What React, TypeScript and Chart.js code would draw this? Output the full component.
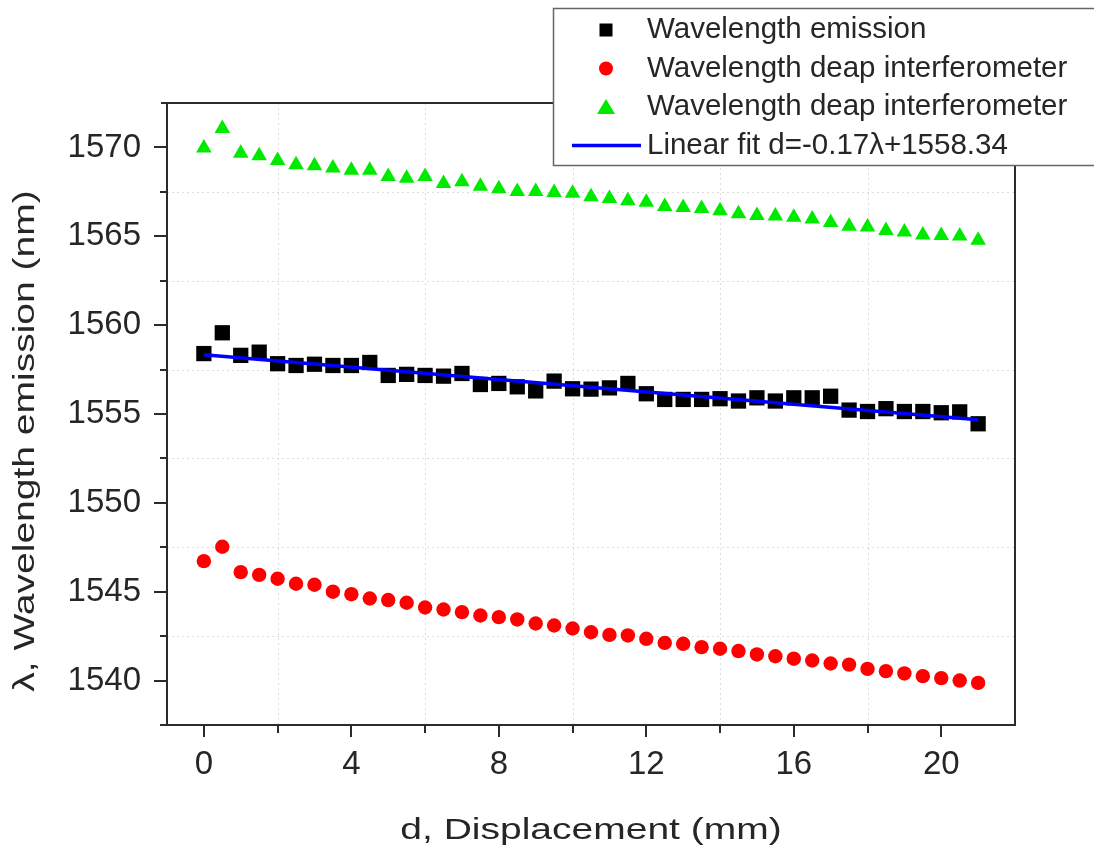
import React, { useEffect, useRef } from "react";
import { Chart, registerables } from "chart.js";

Chart.register(...registerables);

// ---------- data ----------
const displacementMm = [
  0, 0.5, 1, 1.5, 2, 2.5, 3, 3.5, 4, 4.5, 5, 5.5, 6, 6.5, 7, 7.5, 8, 8.5, 9, 9.5, 10,
  10.5, 11, 11.5, 12, 12.5, 13, 13.5, 14, 14.5, 15, 15.5, 16, 16.5, 17, 17.5, 18, 18.5,
  19, 19.5, 20, 20.5, 21,
];

const emissionNm = [
  1558.4, 1559.57, 1558.3, 1558.48, 1557.83, 1557.73, 1557.8, 1557.73, 1557.73, 1557.9,
  1557.17, 1557.23, 1557.17, 1557.13, 1557.28, 1556.66, 1556.72, 1556.53, 1556.3, 1556.85,
  1556.42, 1556.4, 1556.47, 1556.72, 1556.14, 1555.82, 1555.82, 1555.82, 1555.86, 1555.73,
  1555.91, 1555.73, 1555.91, 1555.91, 1556.0, 1555.22, 1555.14, 1555.3, 1555.14, 1555.14,
  1555.07, 1555.12, 1554.45,
];

const interferometerRedNm = [
  1546.72, 1547.53, 1546.1, 1545.95, 1545.73, 1545.45, 1545.39, 1545.0, 1544.86, 1544.62,
  1544.53, 1544.38, 1544.11, 1544.0, 1543.85, 1543.66, 1543.57, 1543.44, 1543.21, 1543.1,
  1542.93, 1542.72, 1542.57, 1542.54, 1542.35, 1542.12, 1542.07, 1541.88, 1541.79, 1541.66,
  1541.47, 1541.37, 1541.23, 1541.13, 1540.96, 1540.9, 1540.66, 1540.53, 1540.4, 1540.25,
  1540.14, 1540.0, 1539.87,
];

const interferometerGreenNm = [
  1569.97, 1571.07, 1569.67, 1569.53, 1569.27, 1569.02, 1568.97, 1568.84, 1568.71, 1568.71,
  1568.37, 1568.27, 1568.37, 1567.97, 1568.07, 1567.82, 1567.67, 1567.52, 1567.52, 1567.47,
  1567.42, 1567.22, 1567.12, 1567.0, 1566.92, 1566.67, 1566.62, 1566.57, 1566.44, 1566.27,
  1566.17, 1566.14, 1566.07, 1565.97, 1565.77, 1565.57, 1565.52, 1565.32, 1565.24, 1565.07,
  1565.05, 1565.02, 1564.77,
];

const fitDisplacement = [0, 21];
const fitWavelength = [1558.34, 1554.67];

const xTickValues = [0, 4, 8, 12, 16, 20];
const xMinorValues = [2, 6, 10, 14, 18];
const yTickValues = [1540, 1545, 1550, 1555, 1560, 1565, 1570];
const yMinorValues = [1542.5, 1547.5, 1552.5, 1557.5, 1562.5, 1567.5];

const seriesLabels = [
  "Wavelength emission",
  "Wavelength deap interferometer",
  "Wavelength deap interferometer",
  "Linear fit d=-0.17\u03bb+1558.34",
];
const xTitle = "d, Displacement (mm)";
const yTitle = "\u03bb, Wavelength emission (nm)";

// ---------- styling ----------
const FONT = '"Liberation Sans", Arial, Helvetica, sans-serif';
const TEXT = "#262626";
const BLACK = "#000000";
const RED = "#ff0000";
const GREEN = "#00ea00";
const BLUE = "#0000ff";

const framePlugin = {
  id: "originFrame",
  beforeDatasetsDraw(chart: any) {
    const { ctx, chartArea: a, scales } = chart;
    const x = scales.x;
    const y = scales.y;
    ctx.save();
    ctx.strokeStyle = "#dcdcdc";
    ctx.lineWidth = 1;
    ctx.setLineDash([2, 3]);
    for (const v of xMinorValues) {
      const px = Math.round(x.getPixelForValue(v)) + 0.5;
      ctx.beginPath();
      ctx.moveTo(px, a.top);
      ctx.lineTo(px, a.bottom);
      ctx.stroke();
    }
    for (const v of yMinorValues) {
      const py = Math.round(y.getPixelForValue(v)) + 0.5;
      ctx.beginPath();
      ctx.moveTo(a.left, py);
      ctx.lineTo(a.right, py);
      ctx.stroke();
    }
    ctx.restore();
  },
  afterDraw(chart: any) {
    const { ctx, chartArea: a, scales } = chart;
    const x = scales.x;
    const y = scales.y;
    ctx.save();
    ctx.setLineDash([]);
    ctx.strokeStyle = "#2b2b2b";
    ctx.lineWidth = 2;
    // frame
    ctx.beginPath();
    ctx.moveTo(a.left - 6, a.top);
    ctx.lineTo(a.right, a.top);
    ctx.lineTo(a.right, a.bottom);
    ctx.stroke();
    ctx.beginPath();
    ctx.moveTo(a.left, a.top);
    ctx.lineTo(a.left, a.bottom);
    ctx.stroke();
    ctx.beginPath();
    ctx.moveTo(a.left - 7, a.bottom);
    ctx.lineTo(a.right + 1, a.bottom);
    ctx.stroke();
    // ticks
    for (const v of yTickValues) {
      const py = Math.round(y.getPixelForValue(v));
      ctx.beginPath();
      ctx.moveTo(a.left - 13, py);
      ctx.lineTo(a.left, py);
      ctx.stroke();
    }
    for (const v of yMinorValues) {
      const py = Math.round(y.getPixelForValue(v));
      ctx.beginPath();
      ctx.moveTo(a.left - 7, py);
      ctx.lineTo(a.left, py);
      ctx.stroke();
    }
    for (const v of xTickValues) {
      const px = Math.round(x.getPixelForValue(v));
      ctx.beginPath();
      ctx.moveTo(px, a.bottom);
      ctx.lineTo(px, a.bottom + 12);
      ctx.stroke();
    }
    for (const v of xMinorValues) {
      const px = Math.round(x.getPixelForValue(v));
      ctx.beginPath();
      ctx.moveTo(px, a.bottom);
      ctx.lineTo(px, a.bottom + 8);
      ctx.stroke();
    }

    // axis titles
    ctx.fillStyle = TEXT;
    ctx.font = `30px ${FONT}`;
    ctx.textAlign = "center";
    ctx.textBaseline = "alphabetic";
    ctx.save();
    ctx.translate((a.left + a.right) / 2, 839);
    ctx.scale(1.3, 1);
    ctx.fillText(xTitle, 0, 0);
    ctx.restore();
    ctx.save();
    ctx.translate(34, 441);
    ctx.rotate(-Math.PI / 2);
    ctx.scale(1.3, 1);
    ctx.fillText(yTitle, 0, 0);
    ctx.restore();

    // legend box
    const lx = 553;
    const ly = 8;
    ctx.fillStyle = "#ffffff";
    ctx.fillRect(lx, ly, 1094 - lx + 10, 157);
    ctx.strokeStyle = "#666666";
    ctx.lineWidth = 1.5;
    ctx.strokeRect(lx + 0.5, ly + 0.5, 1094 - lx + 10, 157);

    const mx = 606;
    const rowY = (i: number) => 30 + 38.5 * i;
    // square
    ctx.fillStyle = BLACK;
    ctx.fillRect(mx - 6.5, rowY(0) - 6.5, 13, 13);
    // circle
    ctx.fillStyle = RED;
    ctx.beginPath();
    ctx.arc(mx, rowY(1), 7, 0, Math.PI * 2);
    ctx.fill();
    // triangle
    ctx.fillStyle = GREEN;
    ctx.beginPath();
    ctx.moveTo(mx, rowY(2) - 8);
    ctx.lineTo(mx + 9, rowY(2) + 7);
    ctx.lineTo(mx - 9, rowY(2) + 7);
    ctx.closePath();
    ctx.fill();
    // line
    ctx.strokeStyle = BLUE;
    ctx.lineWidth = 3.5;
    ctx.beginPath();
    ctx.moveTo(572, rowY(3));
    ctx.lineTo(641, rowY(3));
    ctx.stroke();

    ctx.fillStyle = TEXT;
    ctx.font = `29.5px ${FONT}`;
    ctx.textAlign = "left";
    ctx.textBaseline = "middle";
    seriesLabels.forEach((t, i) => ctx.fillText(t, 647, rowY(i)));
    ctx.restore();
  },
};

export default function App() {
  const canvasRef = useRef<HTMLCanvasElement | null>(null);

  useEffect(() => {
    const canvas = canvasRef.current;
    if (!canvas) return;
    const toPoints = (ys: number[]) => displacementMm.map((xv, i) => ({ x: xv, y: ys[i] }));

    const chart = new Chart(canvas, {
      type: "scatter",
      data: {
        datasets: [
          {
            label: seriesLabels[0],
            data: toPoints(emissionNm),
            pointStyle: "rect",
            pointRadius: 10.8,
            backgroundColor: BLACK,
            borderColor: BLACK,
            borderWidth: 0,
            order: 2,
          },
          {
            label: seriesLabels[1],
            data: toPoints(interferometerRedNm),
            pointStyle: "circle",
            pointRadius: 7.2,
            backgroundColor: RED,
            borderColor: RED,
            borderWidth: 0,
            order: 2,
          },
          {
            label: seriesLabels[2],
            data: toPoints(interferometerGreenNm),
            pointStyle: "triangle",
            pointRadius: 9,
            backgroundColor: GREEN,
            borderColor: GREEN,
            borderWidth: 0,
            order: 2,
          },
          {
            label: seriesLabels[3],
            data: fitDisplacement.map((xv, i) => ({ x: xv, y: fitWavelength[i] })),
            showLine: true,
            pointRadius: 0,
            borderColor: BLUE,
            borderWidth: 3.5,
            backgroundColor: BLUE,
            order: 0,
          } as any,
        ],
      },
      options: {
        responsive: false,
        animation: false,
        devicePixelRatio: 1,
        layout: { padding: { left: 0, top: 103, right: 79, bottom: 0 } },
        plugins: {
          legend: { display: false },
          tooltip: { enabled: false },
          title: { display: false },
        },
        scales: {
          x: {
            type: "linear",
            min: -1,
            max: 22,
            afterFit: (s: any) => {
              s.height = 126;
            },
            afterBuildTicks: (s: any) => {
              s.ticks = xTickValues.map((v) => ({ value: v }));
            },
            ticks: {
              autoSkip: false,
              maxRotation: 0,
              padding: 20,
              color: TEXT,
              font: { size: 33, family: FONT },
              callback: (v: any) => String(v),
            },
            grid: { display: false, drawTicks: false },
            border: { display: false },
          },
          y: {
            type: "linear",
            min: 1537.5,
            max: 1572.5,
            afterFit: (s: any) => {
              s.width = 167;
            },
            afterBuildTicks: (s: any) => {
              s.ticks = yTickValues.map((v) => ({ value: v }));
            },
            ticks: {
              autoSkip: false,
              padding: 26,
              color: TEXT,
              font: { size: 33, family: FONT },
              callback: (v: any) => String(v),
            },
            grid: { display: false, drawTicks: false },
            border: { display: false },
          },
        },
      },
      plugins: [framePlugin],
    });

    return () => chart.destroy();
  }, []);

  return (
    <div
      style={{
        position: "fixed",
        left: 0,
        top: 0,
        width: 1094,
        height: 851,
        background: "#ffffff",
      }}
    >
      <canvas
        ref={canvasRef}
        width={1094}
        height={851}
        style={{ display: "block", width: 1094, height: 851 }}
      />
    </div>
  );
}
